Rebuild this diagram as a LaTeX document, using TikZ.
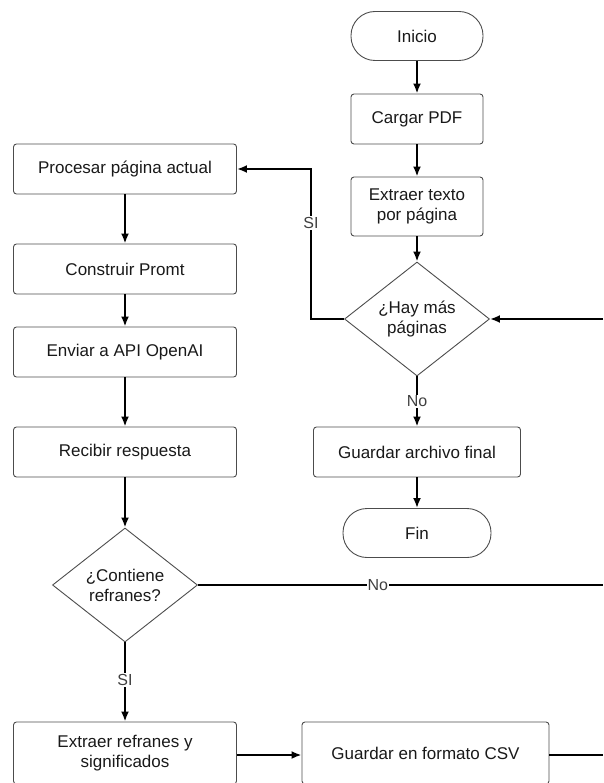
\documentclass[tikz,border=0pt]{standalone}
\usepackage{fontspec}
\setmainfont{Liberation Sans}
\usepackage{xcolor}
\usetikzlibrary{positioning, arrows.meta, shapes.geometric, calc}

\begin{document}
\begin{tikzpicture}[x=1pt, y=-1pt,
        caja/.style={rectangle, rounded corners=3pt, draw=gray!60!black, line width=0.9pt, minimum width=223pt, minimum height=50pt, font=\fontsize{17}{20}\selectfont, text=black!90, align=center, inner sep=2pt},
        terminal/.style={rectangle, rounded corners=24pt, draw=gray!60!black, line width=0.9pt, minimum height=49pt, font=\fontsize{17}{20}\selectfont, text=black!90},
        decision/.style={diamond, aspect=1.27, draw=gray!60!black, line width=0.9pt, minimum width=145pt, minimum height=114pt, inner sep=0pt, font=\fontsize{17}{20}\selectfont, text=black!90, align=center},
        flecha/.style={line width=2pt, -{Latex[length=10pt, width=8pt]}},
        linea/.style={line width=2pt},
        etiq/.style={fill=white, inner sep=1pt, font=\fontsize{16}{19}\selectfont, text=black!75},
    ]
    \useasboundingbox (0,0) rectangle (603,783);
    \clip (0,0) rectangle (603,783);

    % Columna derecha
    \node[terminal, minimum width=132pt] (inicio) at (417, 36) {Inicio};
    \node[caja, minimum width=132pt] (cargar) at (417, 119) {Cargar PDF};
    \node[caja, minimum width=132pt, minimum height=59pt] (extraer) at (417, 206.5) {Extraer texto\\por p\'agina};
    \node[decision] (hay) at (417, 319) {¿Hay más\\páginas};
    \node[caja, minimum width=207pt] (guardarfin) at (417, 452) {Guardar archivo final};
    \node[terminal, minimum width=148pt] (fin) at (417, 533) {Fin};

    % Columna izquierda
    \node[caja] (procesar) at (125, 169) {Procesar página actual};
    \node[caja] (construir) at (125, 269) {Construir Promt};
    \node[caja] (enviar) at (125, 352) {Enviar a API OpenAI};
    \node[caja] (recibir) at (125, 452) {Recibir respuesta};
    \node[decision] (contiene) at (125, 585) {¿Contiene\\refranes?};
    \node[caja, minimum height=62pt] (extraerref) at (125, 753) {Extraer refranes y\\significados};
    \node[caja, minimum width=247pt, minimum height=62pt] (csv) at (425.5, 753) {Guardar en formato CSV};

    % Puntos en el borde
    \coordinate (sigiro) at (311, 319);
    \coordinate (entrada) at (603, 319);
    \coordinate (nosalida) at (603, 585);
    \coordinate (csvsalida) at (603, 755);

    % Flujo principal
    \foreach \a/\b in {inicio/cargar, cargar/extraer, extraer/hay, guardarfin/fin,
                       procesar/construir, construir/enviar, enviar/recibir, recibir/contiene} {
        \draw[flecha] (\a) -- (\b);
    }

    % Decisiones
    \draw[flecha] (hay.west) -- (sigiro) -- node[etiq, pos=0.64] {SI} (sigiro |- procesar.east) -- (procesar.east);
    \draw[flecha] (entrada) -- (hay.east);
    \draw[flecha] (hay.south) -- node[etiq, midway] {No} (guardarfin.north);
    \draw[linea] (contiene.east) -- node[etiq, pos=0.444] {No} (nosalida);
    \draw[flecha] (contiene.south) -- node[etiq, pos=0.475] {SI} (extraerref.north);
    \draw[flecha] (extraerref.east |- csvsalida) -- (csv.west |- csvsalida);
    \draw[linea] (csv.east |- csvsalida) -- (csvsalida);

\end{tikzpicture}
\end{document}
